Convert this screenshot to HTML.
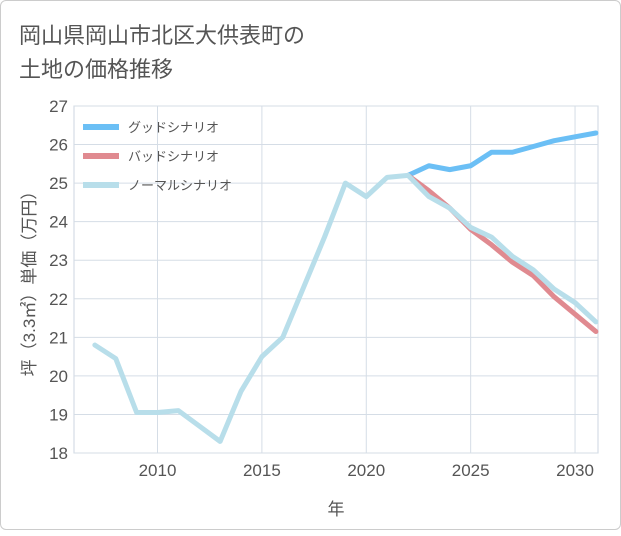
<!DOCTYPE html>
<html><head><meta charset="utf-8"><style>
body{margin:0;background:#fff;}
#c{position:relative;width:621px;height:530px;box-sizing:border-box;border:1px solid #ccc;border-radius:6px;background:#fff;font-family:"Liberation Sans","Noto Sans CJK JP",sans-serif;}
svg text{font-family:"Liberation Sans","Noto Sans CJK JP",sans-serif;}
</style></head><body>
<div id="c">
<svg id="s" width="621" height="530"></svg>
</div>
<script>
const years=[2007,2008,2009,2010,2011,2012,2013,2014,2015,2016,2017,2018,2019,2020,2021,2022,2023,2024,2025,2026,2027,2028,2029,2030,2031];
const normal=[20.8,20.45,19.05,19.05,19.1,18.7,18.3,19.6,20.5,21.0,22.3,23.6,25.0,24.65,25.15,25.2,24.65,24.35,23.85,23.6,23.1,22.75,22.25,21.9,21.4];
const futureYears=[2022,2023,2024,2025,2026,2027,2028,2029,2030,2031];
const good=[25.2,25.45,25.35,25.45,25.8,25.8,25.95,26.1,26.2,26.3];
const bad=[25.2,24.8,24.35,23.8,23.4,22.95,22.6,22.05,21.6,21.15];
const yTicks=[18,19,20,21,22,23,24,25,26,27];
const xTicks=[2010,2015,2020,2025,2030];
const L=73,R=597,T=105,B=452,x0=2006,x1=2031.1,y0=18,y1=27;
const X=v=>L+(v-x0)/(x1-x0)*(R-L);
const Y=v=>B-(v-y0)/(y1-y0)*(B-T);
const s=document.getElementById('s');const NS='http://www.w3.org/2000/svg';
function el(t,a,p){const e=document.createElementNS(NS,t);for(const k in a)e.setAttribute(k,a[k]);(p||s).appendChild(e);return e;}
function txt(str,a,name){const e=el('text',a);e.textContent=str;return e;}
txt('岡山県岡山市北区大供表町の',{x:18,y:42,'font-size':22,fill:'#555'},'title-line-1');
txt('土地の価格推移',{x:18,y:76,'font-size':22,fill:'#555'},'title-line-2');
const bg=el('rect',{x:L,y:T,width:R-L,height:B-T,fill:'#fff',stroke:'#ccd6e0'});

yTicks.forEach(v=>{const g=el('line',{x1:L,x2:R,y1:Y(v),y2:Y(v),stroke:'#d5dde6'});

txt(String(v),{x:L-6,y:Y(v)+6,'font-size':17,fill:'#555','text-anchor':'end'},'y-tick-label');});
xTicks.forEach(v=>{const g=el('line',{x1:X(v),x2:X(v),y1:T,y2:B,stroke:'#d5dde6'});

txt(String(v),{x:X(v),y:B+23,'font-size':17,fill:'#555','text-anchor':'middle'},'x-tick-label');});
txt('年',{x:(L+R)/2,y:514,'font-size':17,fill:'#555','text-anchor':'middle'},'x-axis-title');
const yt=txt('坪（3.3㎡）単価（万円）',{x:0,y:0,'font-size':17,fill:'#555','text-anchor':'middle',transform:'translate(34,'+((T+B)/2)+') rotate(-90)'},'y-axis-title');
function line(xs,ys,c,name){const p=el('polyline',{points:xs.map((x,i)=>X(x)+','+Y(ys[i])).join(' '),fill:'none',stroke:c,'stroke-width':5,'stroke-linejoin':'round','stroke-linecap':'round'});
}
line(futureYears,good,'#6bbff5','good-scenario-line');
line(futureYears,bad,'#e08a90','bad-scenario-line');
line(years,normal,'#b8deea','normal-scenario-line');
const leg=[['グッドシナリオ','#6bbff5'],['バッドシナリオ','#e08a90'],['ノーマルシナリオ','#b8deea']];
leg.forEach((d,i)=>{const y=126+i*29;const r=el('line',{x1:82,x2:118,y1:y,y2:y,stroke:d[1],'stroke-width':6});

txt(d[0],{x:127,y:y+5,'font-size':13,fill:'#555'},'legend-entry');});
</script>
</body></html>
